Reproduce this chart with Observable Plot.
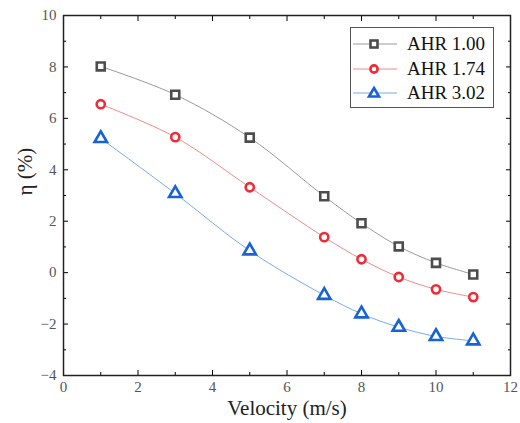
<!DOCTYPE html>
<html><head><meta charset="utf-8">
<script src="https://cdn.jsdelivr.net/npm/d3@7"></script>
<script src="https://cdn.jsdelivr.net/npm/@observablehq/plot@0.6"></script>
<style>
body{margin:0;background:#fff;}
#wrap{position:relative;width:520px;height:423px;}
#legend{position:absolute;left:350px;top:27px;width:144px;height:81px;border:1px solid #555;background:#fff;box-sizing:border-box;}
.row{position:absolute;left:0;height:24px;display:flex;align-items:center;}
.row span{font-size:19px;color:#111;margin-left:6px;font-family:serif;}
</style></head>
<body><div id="wrap"><div id="chart"></div><div id="legend"></div></div>
<script>
const velocity = [1, 3, 5, 7, 8, 9, 10, 11];
const ahr100 = [8.02, 6.92, 5.25, 2.97, 1.92, 1.02, 0.38, -0.07];
const ahr174 = [6.55, 5.27, 3.32, 1.38, 0.52, -0.17, -0.65, -0.95];
const ahr302 = [5.22, 3.08, 0.85, -0.88, -1.6, -2.12, -2.48, -2.65];
const seriesNames = ["AHR 1.00", "AHR 1.74", "AHR 3.02"];
const seriesValues = [ahr100, ahr174, ahr302];
const symbols = ["square", "circle", "triangle"];
const markColors = ["#4d4d4d", "#ee2b36", "#1763d6"];
const lineColors = ["#9a9a9a", "#f28b8b", "#79aaea"];
const xMajor = [0, 2, 4, 6, 8, 10, 12];
const xMinor = [1, 3, 5, 7, 9, 11];
const yMajor = [-4, -2, 0, 2, 4, 6, 8, 10];
const yMinor = [-3, -1, 1, 3, 5, 7, 9];

const rows = [];
seriesNames.forEach((s, i) => velocity.forEach((v, j) => rows.push({series: s, i, v, eta: seriesValues[i][j]})));
const sizes = [4.5, 4.1, 4.6];
const ff = "'Times New Roman', 'Liberation Serif', serif";

const marks = [];
seriesNames.forEach((s, i) => {
  const d = rows.filter(r => r.i === i);
  marks.push(Plot.line(d, {x: "v", y: "eta", stroke: lineColors[i], strokeWidth: 1, curve: "catmull-rom"}));
});
seriesNames.forEach((s, i) => {
  const d = rows.filter(r => r.i === i);
  marks.push(Plot.dot(d, {x: "v", y: "eta", symbol: symbols[i], r: sizes[i], stroke: markColors[i], fill: "#fff", strokeWidth: 2.6}));
});

const chart = Plot.plot({
  width: 520, height: 423,
  marginLeft: 63, marginRight: 10, marginTop: 15, marginBottom: 48,
  style: {fontFamily: ff, background: "#fff"},
  x: {domain: [0, 12]},
  y: {domain: [-4, 10]},
  marks: [
    ...marks,
    Plot.axisX(xMajor, {anchor: "bottom", tickSize: -5, tickPadding: 11, fontSize: 15, fontFamily: ff, fill: "#555", label: null}),
    Plot.axisX(xMinor, {anchor: "bottom", tickSize: -3, tickFormat: () => "", label: null}),
    Plot.axisX(xMajor, {anchor: "top", tickSize: -5, tickFormat: () => "", label: null}),
    Plot.axisX(xMinor, {anchor: "top", tickSize: -3, tickFormat: () => "", label: null}),
    Plot.axisY(yMajor, {anchor: "left", tickSize: -5, tickPadding: 12, fontSize: 15, fontFamily: ff, fill: "#555", label: null}),
    Plot.axisY(yMinor, {anchor: "left", tickSize: -3, tickFormat: () => "", label: null}),
    Plot.axisY(yMajor, {anchor: "right", tickSize: -5, tickFormat: () => "", label: null}),
    Plot.axisY(yMinor, {anchor: "right", tickSize: -3, tickFormat: () => "", label: null}),
    Plot.frame({stroke: "#222", strokeWidth: 1.5}),
    Plot.text(["Velocity (m/s)"], {frameAnchor: "bottom", dy: 39, fontSize: 21, fill: "#222", fontFamily: ff}),
    Plot.text(["η (%)"], {frameAnchor: "left", dx: -38, rotate: -90, fontSize: 21, fill: "#222", fontFamily: ff})
  ]
});
d3.select(chart).attr("font-family", ff).selectAll("text").attr("font-family", ff).style("font-family", ff);
document.getElementById("chart").appendChild(chart);

const leg = document.getElementById("legend");
const ys = [4, 29, 53];
seriesNames.forEach((s, i) => {
  const row = document.createElement("div");
  row.className = "row";
  row.style.top = ys[i] + "px";
  const sym = symbols[i];
  let shape;
  if (sym === "square") shape = `<rect x="19.5" y="7.5" width="7" height="7" fill="#fff" stroke="${markColors[i]}" stroke-width="2.6"/>`;
  else if (sym === "circle") shape = `<circle cx="23" cy="11" r="3.6" fill="#fff" stroke="${markColors[i]}" stroke-width="2.6"/>`;
  else shape = `<path d="M23,6 L28,14.5 L18,14.5 Z" fill="#fff" stroke="${markColors[i]}" stroke-width="2.6" stroke-linejoin="miter"/>`;
  row.innerHTML = `<svg width="50" height="22"><line x1="2" x2="46" y1="11" y2="11" stroke="${lineColors[i]}" stroke-width="1"/>${shape}</svg><span>${s}</span>`;
  leg.appendChild(row);
});
</script></body></html>
